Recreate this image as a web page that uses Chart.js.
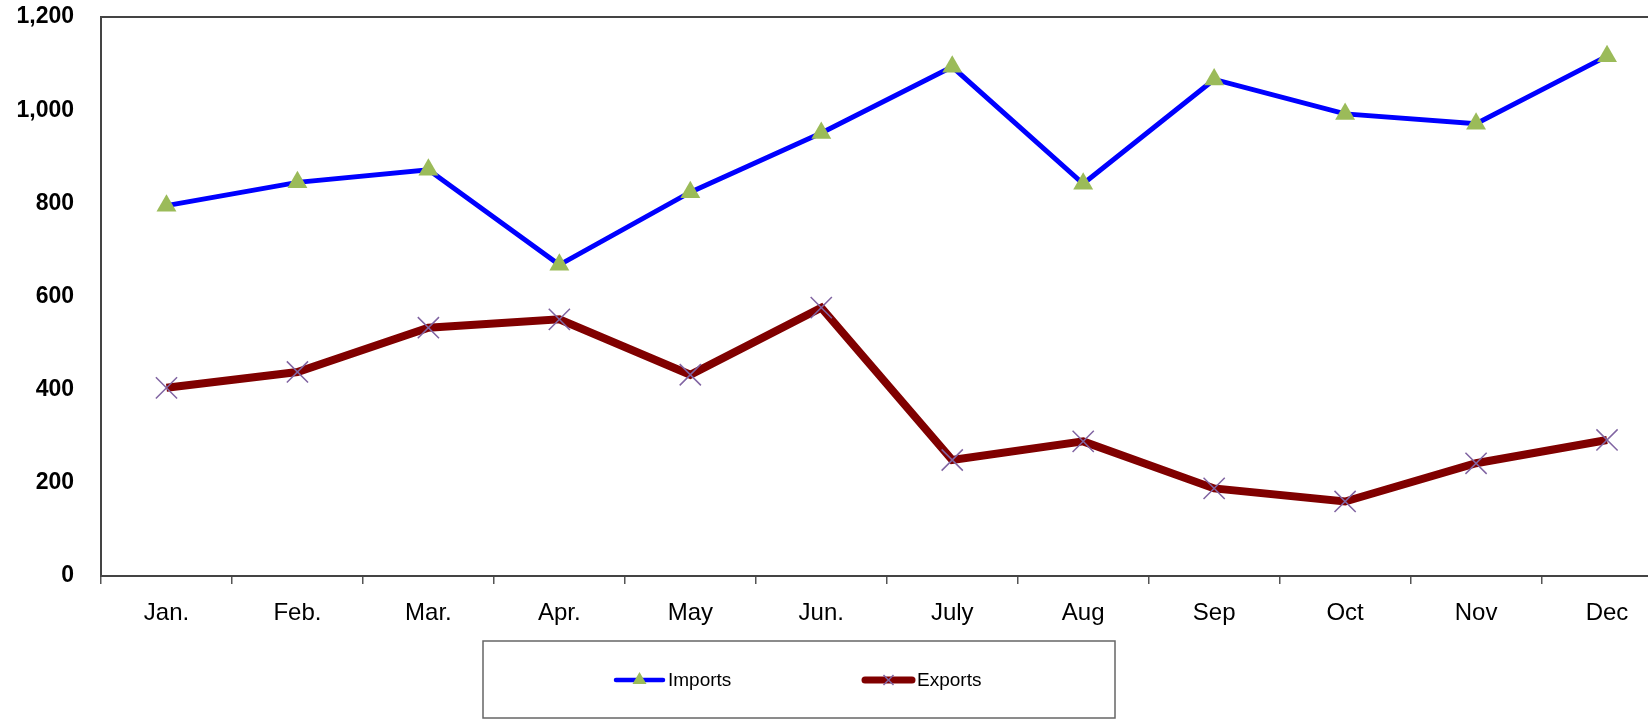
<!DOCTYPE html>
<html>
<head>
<meta charset="utf-8">
<script src="https://cdn.jsdelivr.net/npm/chart.js@4.4.1/dist/chart.umd.min.js"></script>
<style>
  html, body { margin: 0; padding: 0; background: #ffffff; overflow: hidden; }
  /* the plot runs a little past the right edge of the window, as in the original */
  #wrap { width: 1689px; height: 720px; }
</style>
</head>
<body>
<div id="wrap"><canvas id="tradeChart" width="1689" height="720"></canvas></div>
<script>
/* --------------- Data --------------------- */
const months = ["Jan.", "Feb.", "Mar.", "Apr.", "May", "Jun.", "July", "Aug", "Sep", "Oct", "Nov", "Dec"];
const importsValues = [795, 845, 872, 668, 824, 951, 1093, 842, 1066, 992, 971, 1116];
const exportsValues = [404, 438, 533, 551, 432, 576, 249, 289, 188, 160, 242, 292];
const seriesNames = ["Imports", "Exports"];

/* --------------- Fonts --------------------- */
const sansFont = '"Liberation Sans", Arial, sans-serif';

/* --------------- Frame on top and right --------------------- */
const framePlugin = {
  id: "frame",
  beforeDatasetsDraw(chart) {
    const { ctx, chartArea } = chart;
    ctx.save();
    ctx.strokeStyle = "#444444";
    ctx.lineWidth = 2;
    ctx.beginPath();
    ctx.moveTo(chartArea.left, chartArea.top);
    ctx.lineTo(chartArea.right, chartArea.top);
    ctx.lineTo(chartArea.right, chartArea.bottom);
    ctx.stroke();
    ctx.restore();
  }
};

/* --------------- Boxed legend --------------------- */
const boxLegendPlugin = {
  id: "boxLegend",
  afterDraw(chart) {
    const ctx = chart.ctx;
    const ds = chart.data.datasets;
    ctx.save();
    ctx.strokeStyle = "#666666";
    ctx.lineWidth = 1.5;
    ctx.strokeRect(483, 641, 632, 77);

    const y = 680;
    const starts = [614, 863];
    ctx.font = "19px " + sansFont;
    ctx.textBaseline = "middle";
    ds.forEach((d, i) => {
      const x0 = starts[i], x1 = x0 + 51, xm = (x0 + x1) / 2;
      ctx.strokeStyle = d.borderColor;
      ctx.lineWidth = i === 0 ? 4.5 : 7;
      ctx.lineCap = "round";
      ctx.beginPath();
      ctx.moveTo(x0 + 2, y);
      ctx.lineTo(x1 - 2, y);
      ctx.stroke();
      if (i === 0) {
        ctx.fillStyle = d.pointBackgroundColor;
        ctx.beginPath();
        ctx.moveTo(xm, y - 8);
        ctx.lineTo(xm + 7, y + 4);
        ctx.lineTo(xm - 7, y + 4);
        ctx.closePath();
        ctx.fill();
      } else {
        ctx.strokeStyle = d.pointBorderColor;
        ctx.lineWidth = 1.5;
        ctx.lineCap = "butt";
        ctx.beginPath();
        ctx.moveTo(xm - 5, y - 5); ctx.lineTo(xm + 5, y + 5);
        ctx.moveTo(xm + 5, y - 5); ctx.lineTo(xm - 5, y + 5);
        ctx.stroke();
      }
      ctx.fillStyle = "#000000";
      ctx.fillText(d.label, x1 + 3, y + 1);
    });
    ctx.restore();
  }
};

/* --------------- Chart --------------------- */
const tradeChart = new Chart(document.getElementById("tradeChart"), {
  type: "line",
  plugins: [framePlugin, boxLegendPlugin],
  data: {
    labels: months,
    datasets: [
      {
        label: seriesNames[0],
        data: importsValues,
        borderColor: "#0000FF",
        borderWidth: 5,
        pointStyle: "triangle",
        pointRadius: 11.5,
        pointBackgroundColor: "#9BBB59",
        pointBorderColor: "#9BBB59",
        pointBorderWidth: 0,
        tension: 0
      },
      {
        label: seriesNames[1],
        data: exportsValues,
        borderColor: "#800000",
        borderWidth: 8,
        pointStyle: "crossRot",
        pointRadius: 15,
        pointBorderColor: "#8064A2",
        pointBackgroundColor: "#8064A2",
        pointBorderWidth: 1.5,
        tension: 0
      }
    ]
  },
  options: {
    responsive: false,
    devicePixelRatio: 1,
    animation: false,
    layout: { padding: { top: 17, left: 0, right: 0, bottom: 0 } },
    plugins: {
      legend: { display: false },
      tooltip: { enabled: false }
    },
    scales: {
      x: {
        offset: true,
        grid: { offset: true, drawOnChartArea: false, drawTicks: true, tickLength: 8, color: "#555555", lineWidth: 1.5 },
        border: { display: true, color: "#444444", width: 2 },
        ticks: { color: "#000000", font: { family: sansFont, size: 24 }, padding: 15, maxRotation: 0, autoSkip: false },
        afterFit: (s) => { s.height = 144; }
      },
      y: {
        min: 0,
        max: 1200,
        // invisible tick marks give the gap between labels and axis
        grid: { drawOnChartArea: false, drawTicks: true, tickLength: 27, color: "rgba(0,0,0,0)" },
        border: { display: true, color: "#444444", width: 2 },
        ticks: {
          stepSize: 200,
          color: "#000000",
          padding: 0,
          font: { family: sansFont, size: 23, weight: "bold" },
          callback: (v) => v.toLocaleString("en-US")
        },
        afterFit: (s) => { s.width = 101; }
      }
    }
  }
});
</script>
</body>
</html>
